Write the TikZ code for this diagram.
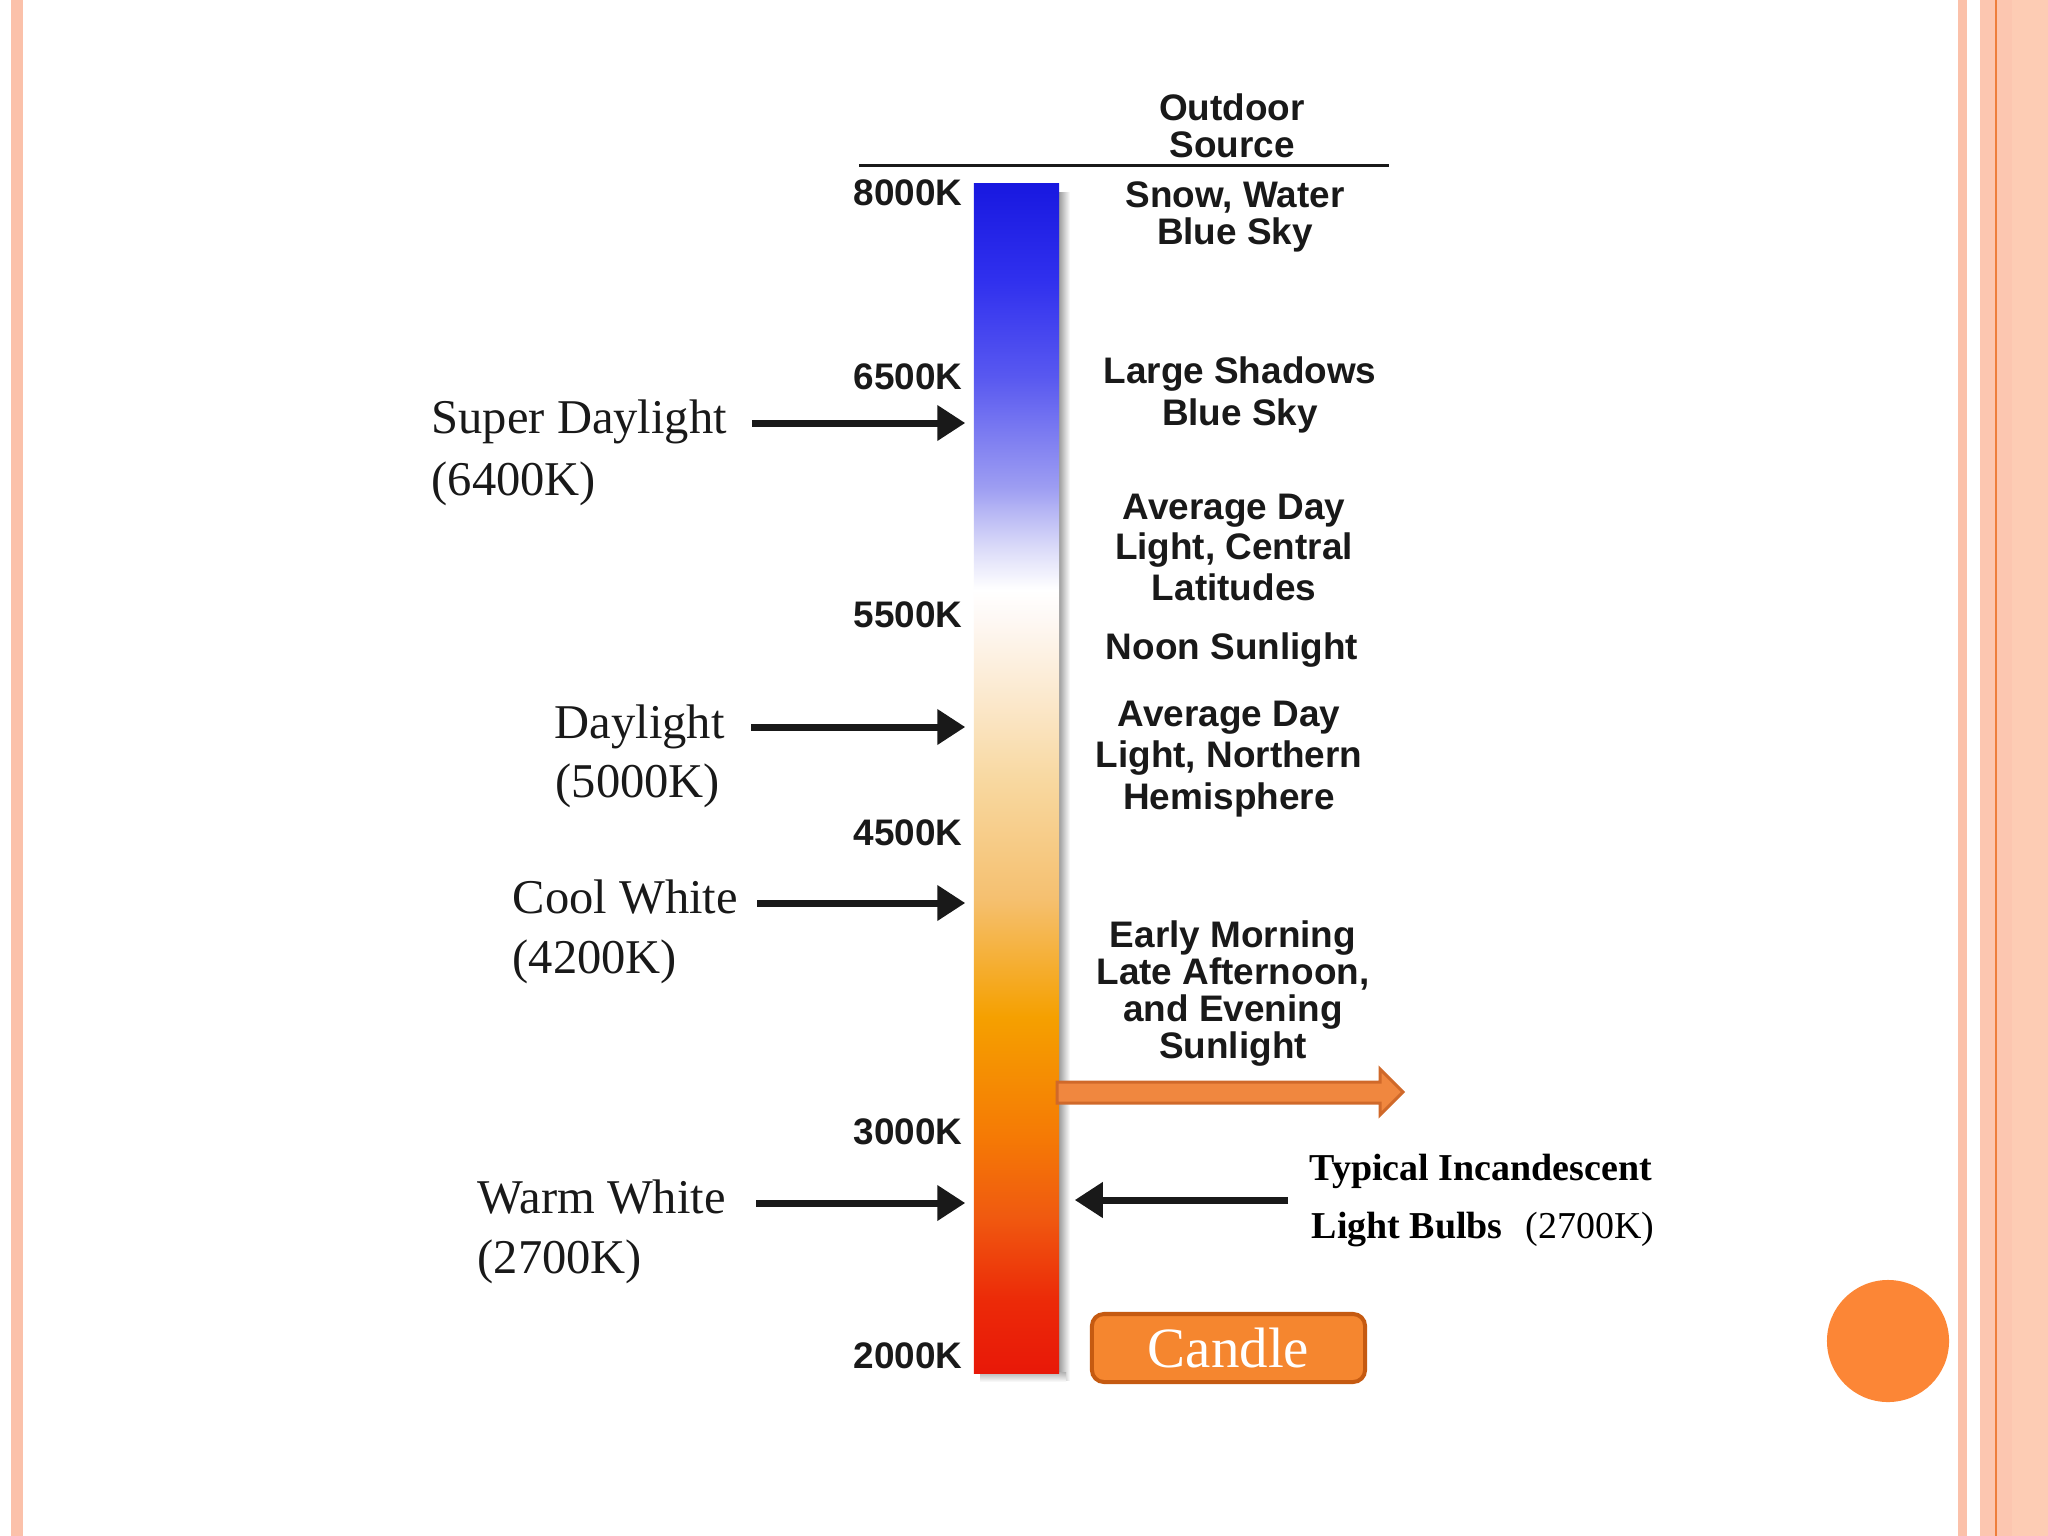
\documentclass[tikz,border=0pt]{standalone}
\usepackage{fontspec}
\setmainfont{Liberation Serif}
\newfontfamily\lsans{Liberation Sans}
\usetikzlibrary{arrows.meta}
\definecolor{pinkA}{HTML}{FBC1AA}
\definecolor{pinkB}{HTML}{FCC6B0}
\definecolor{pinkC}{HTML}{FDCCB4}
\definecolor{orline}{HTML}{EE7E3C}
\definecolor{circ}{HTML}{FC8636}
\definecolor{candlefill}{HTML}{F5862F}
\definecolor{candleedge}{HTML}{C55A11}
\definecolor{oafill}{HTML}{F0873F}
\definecolor{oaedge}{HTML}{D0692A}
\definecolor{c0}{HTML}{E81808}
\definecolor{c1}{HTML}{EC2A08}
\definecolor{c2}{HTML}{F05A10}
\definecolor{c3}{HTML}{F57A05}
\definecolor{c4}{HTML}{F5A000}
\definecolor{c5}{HTML}{F5C070}
\definecolor{c6}{HTML}{F8D8A0}
\definecolor{c7}{HTML}{FBE8CC}
\definecolor{c8}{HTML}{FEF8F4}
\definecolor{c9}{HTML}{FFFFFF}
\definecolor{c10}{HTML}{D8D8F8}
\definecolor{c11}{HTML}{9C9CF2}
\definecolor{c12}{HTML}{5858F0}
\definecolor{c13}{HTML}{3030EE}
\definecolor{c14}{HTML}{1818E0}
\pgfdeclareverticalshading{barshade}{100bp}{color(0bp)=(c0); color(25bp)=(c0); color(28.07bp)=(c1); color(31.64bp)=(c2); color(34.97bp)=(c3); color(39.97bp)=(c4); color(44.97bp)=(c5); color(49.94bp)=(c6); color(53.30bp)=(c7); color(56.67bp)=(c8); color(57.93bp)=(c9); color(59.82bp)=(c10); color(62.30bp)=(c11); color(66.89bp)=(c12); color(70.96bp)=(c13); color(75bp)=(c14); color(100bp)=(c14)}
\begin{document}
\begin{tikzpicture}[x=0.01cm,y=-0.01cm,
  sanslbl/.style={font=\lsans\bfseries\fontsize{10.5pt}{#1}\selectfont, align=center, inner sep=0pt, text=black!90},
  klbl/.style={font=\lsans\bfseries\fontsize{10.5pt}{12pt}\selectfont, anchor=base east, inner sep=0pt, text=black!90},
  serlbl/.style={font=\fontsize{13.8pt}{16pt}\selectfont, anchor=base west, inner sep=0pt, text=black!90},
  blackarrow/.style={line width=0.07cm, -{Triangle[length=0.28cm,width=0.34cm]}, black!90},
  oarrow/.style={fill=oafill, draw=oaedge, line width=0.03cm, line join=miter},
  candlebox/.style={fill=candlefill, draw=candleedge, line width=0.04cm, rounded corners=0.12cm, minimum width=2.73cm, minimum height=0.68cm, inner sep=0pt, text=white, font=\fontsize{16.2pt}{18pt}\selectfont}
]
\useasboundingbox (0,0) rectangle (2048,1536);
\fill[white] (0,0) rectangle (2048,1536);
% slide frame stripes
\fill[pinkA] (11,0) rectangle (23,1536);
\fill[pinkA] (1958,0) rectangle (1967,1536);
\fill[pinkB] (1980,0) rectangle (2048,1536);
\fill[pinkC] (2012,0) rectangle (2048,1536);
\draw[orline, line width=0.025cm] (1996,0) -- (1996,1536);
\fill[circ] (1888,1341) circle (0.61cm);

% header
\node[sanslbl=10.53pt] (hdr) at (1232,126) {Outdoor\\Source};
\draw[line width=0.03cm, black!90] (859,165) -- (1389,165);

% shadow and bar
\shade[left color=black!45, right color=white] (1057,192) rectangle (1070,1380);
\shade[top color=black!30, bottom color=white] (980,1372) rectangle (1066,1382);
\node[shade, shading=barshade, minimum width=0.85cm, minimum height=11.89cm, inner sep=0pt, draw=none] (bar) at (1016.5,778.5) {};

% kelvin ticks
\node[klbl] (k8000) at (963,205) {8000K};
\node[klbl] (k6500) at (963,389) {6500K};
\node[klbl] (k5500) at (963,627) {5500K};
\node[klbl] (k4500) at (963,845) {4500K};
\node[klbl] (k3000) at (963,1144) {3000K};
\node[klbl] (k2000) at (963,1368) {2000K};

% outdoor sources
\node[sanslbl=10.53pt] (snow) at (1235,217) {Snow, Water\\Blue Sky};
\node[sanslbl=11.95pt] (shadows) at (1240,394.5) {Large Shadows\\Blue Sky};
\node[sanslbl=11.52pt] (central) at (1234,547) {Average Day\\Light, Central\\Latitudes};
\node[sanslbl=10.53pt] (noon) at (1232,650.5) {Noon Sunlight};
\node[sanslbl=11.81pt] (northern) at (1229,759) {Average Day\\Light, Northern\\Hemisphere};
\node[sanslbl=10.44pt] (early) at (1233,993.5) {Early Morning\\Late Afternoon,\\and Evening\\Sunlight};

% lamp labels (left)
\node[serlbl] (sd1) at (431,433) {Super Daylight};
\node[serlbl] (sd2) at (431,495) {(6400K)};
\node[serlbl] (dl1) at (554,738) {Daylight};
\node[serlbl] (dl2) at (555,797) {(5000K)};
\node[serlbl] (cw1) at (512,913) {Cool White};
\node[serlbl] (cw2) at (512,973) {(4200K)};
\node[serlbl] (ww1) at (477,1213) {Warm White};
\node[serlbl] (ww2) at (477,1273) {(2700K)};

\coordinate (sdS) at (752,423);
\coordinate (dlS) at (751,727);
\coordinate (cwS) at (757,903);
\coordinate (wwS) at (756,1203);
\draw[blackarrow, shorten >=0.08cm] (sdS) -- (sdS -| bar.west);
\draw[blackarrow, shorten >=0.08cm] (dlS) -- (dlS -| bar.west);
\draw[blackarrow, shorten >=0.08cm] (cwS) -- (cwS -| bar.west);
\draw[blackarrow, shorten >=0.08cm] (wwS) -- (wwS -| bar.west);

% incandescent
\node[font=\fontsize{10.8pt}{13pt}\selectfont\bfseries, anchor=base west, inner sep=0pt] (inc1) at (1309,1180) {Typical Incandescent};
\node[font=\fontsize{10.8pt}{13pt}\selectfont, anchor=base west, inner sep=0pt] (inc2) at (1311,1238) {\textbf{Light Bulbs}\hspace{0.6em}(2700K)};
\coordinate (incS) at (1288,1200);
\draw[blackarrow, shorten >=0.15cm] (incS) -- (incS -| bar.east);

% orange block arrow
\draw[oarrow] (1057,1082) -- (1380,1082) -- (1380,1069) -- (1403,1092) -- (1380,1115) -- (1380,1103) -- (1057,1103) -- cycle;

% candle
\node[candlebox] (candle) at (1228.5,1348) {Candle};
\end{tikzpicture}
\end{document}
